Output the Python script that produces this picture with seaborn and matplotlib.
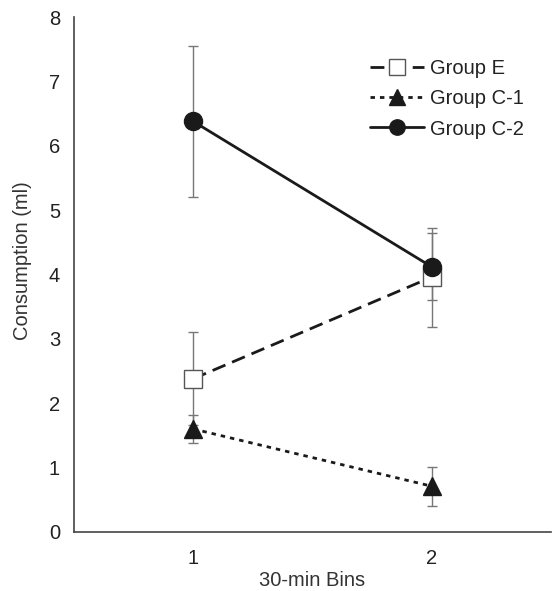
import pandas as pd
import numpy as np
import matplotlib
matplotlib.use('Agg')
import matplotlib.pyplot as plt
import seaborn as sns

# ============================================================
# DATA
# ============================================================

bins = [1, 2]
groups = ['Group E', 'Group C-1', 'Group C-2']

group_e = [2.38, 3.96]
group_e_err = [0.72, 0.77]

group_c1 = [1.60, 0.71]
group_c1_err = [0.22, 0.30]

group_c2 = [6.38, 4.12]
group_c2_err = [1.17, 0.52]

df = pd.DataFrame({
    'bin': bins * 3,
    'group': np.repeat(groups, 2),
    'value': group_e + group_c1 + group_c2,
    'err': group_e_err + group_c1_err + group_c2_err,
})

# ============================================================
# PLOT
# ============================================================

sns.set_style('white')
plt.rcParams['font.family'] = ['Liberation Sans', 'DejaVu Sans']

FS = 14.5

fig = plt.figure(figsize=(5.52, 5.91), dpi=100)
ax = fig.add_axes([0.134, 0.1, 0.864, 0.871])

styles = {
    'Group E': dict(marker='s', ls=(0, (5, 2.6)), mfc='white', ms=13,
                    mec='#555555'),
    'Group C-1': dict(marker='^', ls=(0, (1.6, 1.8)), mfc='#1a1a1a', ms=13,
                      mec='#1a1a1a'),
    'Group C-2': dict(marker='o', ls='-', mfc='#1a1a1a', ms=13,
                      mec='#1a1a1a'),
}

for g in groups:
    sub = df[df['group'] == g]
    ax.errorbar(sub['bin'], sub['value'], yerr=sub['err'], fmt='none',
                ecolor='#777777', elinewidth=1, capsize=3.6, capthick=1,
                zorder=1)

for g in groups:
    sub = df[df['group'] == g]
    st = styles[g]
    sns.lineplot(data=sub, x='bin', y='value', ax=ax, label=g,
                 color='#1a1a1a', linewidth=2.0, linestyle=st['ls'],
                 marker=st['marker'], markersize=st['ms'],
                 markerfacecolor=st['mfc'], markeredgecolor=st['mec'],
                 markeredgewidth=1.0, zorder=3)

ax.set_xlim(0.5, 2.5)
ax.set_ylim(0, 8)
ax.set_xticks(bins)
ax.set_yticks(range(0, 9))
ax.set_xlabel('30-min Bins', fontsize=FS, color='#333333')
ax.set_ylabel('Consumption (ml)', fontsize=FS, color='#333333')
ax.yaxis.set_label_coords(-0.088, 0.527)
ax.xaxis.set_label_coords(0.5, -0.075)

sns.despine(ax=ax)
for sp in ['left', 'bottom']:
    ax.spines[sp].set_color('#444444')
    ax.spines[sp].set_linewidth(1.2)

ax.tick_params(axis='y', direction='in', length=7, width=1,
               color='#444444', labelsize=FS, labelcolor='#222222', pad=10)
ax.tick_params(axis='x', length=0, labelsize=FS, labelcolor='#222222',
               pad=12)

leg = ax.legend(loc='upper left', bbox_to_anchor=(0.62, 0.918),
                frameon=False, fontsize=FS, handlelength=2.7,
                handletextpad=0.3, labelspacing=0.55, markerscale=0.85,
                borderpad=0, borderaxespad=0)
for txt in leg.get_texts():
    txt.set_color('#222222')

plt.savefig('out.png', dpi=100)
plt.close()
